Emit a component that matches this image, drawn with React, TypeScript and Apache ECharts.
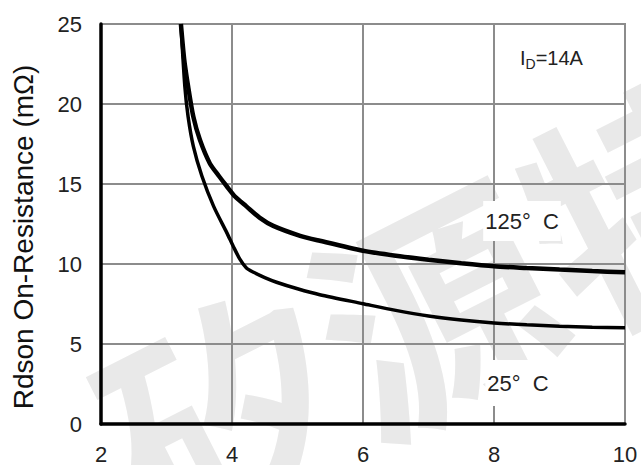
import React, { useEffect, useRef } from "react";
import * as echarts from "echarts";

// Gate voltage (V) and Rdson (mΩ)
const vgs125: number[] = [3.22, 3.27, 3.33, 3.41, 3.51, 3.66, 3.8, 3.92, 4.05, 4.22, 4.42, 4.63, 5.04, 5.34, 6.0, 6.5, 7.0, 7.5, 8.0, 8.5, 9.0, 9.5, 10.0];
const rds125: number[] = [25, 22.8, 21.1, 19.2, 17.76, 16.3, 15.5, 14.86, 14.2, 13.6, 12.9, 12.38, 11.76, 11.45, 10.83, 10.52, 10.27, 10.05, 9.86, 9.75, 9.65, 9.56, 9.48];

const vgs25: number[] = [3.22, 3.28, 3.33, 3.41, 3.54, 3.72, 3.92, 4.02, 4.12, 4.22, 4.33, 4.5, 4.68, 5.0, 5.34, 6.0, 6.5, 7.0, 7.5, 8.0, 8.5, 9.0, 9.5, 10.0];
const rds25: number[] = [25, 21.1, 19.2, 17.35, 15.5, 13.6, 11.96, 11.1, 10.3, 9.75, 9.48, 9.15, 8.86, 8.45, 8.08, 7.52, 7.1, 6.75, 6.5, 6.32, 6.2, 6.11, 6.05, 6.02];

const xTicks = { min: 2, max: 10, interval: 2 };
const yTicks = { min: 0, max: 25, interval: 5 };

const yAxisTitle = "Rdson On-Resistance (mΩ)";
const label125 = "125°  C";
const label25 = "25°  C";
const watermark = "矽源特";

const FONT = "Liberation Sans, Arial, Helvetica, sans-serif";

export default function App() {
  const ref = useRef<HTMLDivElement>(null);
  useEffect(() => {
    if (!ref.current) return;
    const chart = echarts.init(ref.current, undefined, { renderer: "svg" });
    const pair = (xs: number[], ys: number[]) => xs.map((x, i) => [x, ys[i]]);
    chart.setOption({
      animation: false,
      backgroundColor: "#ffffff",
      grid: {
        left: 101,
        right: 16,
        top: 24,
        bottom: 39,
        show: true,
        borderColor: "#8c8c8c",
        borderWidth: 2,
      },
      xAxis: {
        type: "value",
        min: xTicks.min,
        max: xTicks.max,
        interval: xTicks.interval,
        axisLine: { show: true, lineStyle: { color: "#000", width: 3.5 } },
        axisTick: { show: false },
        axisLabel: { color: "#222", fontSize: 22, fontFamily: FONT, margin: 19 },
        splitLine: { show: true, lineStyle: { color: "#8c8c8c", width: 2 } },
      },
      yAxis: {
        type: "value",
        min: yTicks.min,
        max: yTicks.max,
        interval: yTicks.interval,
        axisLine: { show: true, lineStyle: { color: "#000", width: 3.5 } },
        axisTick: { show: false },
        axisLabel: { color: "#222", fontSize: 22, fontFamily: FONT, margin: 19 },
        splitLine: { show: true, lineStyle: { color: "#8c8c8c", width: 2 } },
      },
      graphic: [
        {
          type: "text",
          x: 430,
          y: 300,
          rotation: 0.47,
          z: -10,
          silent: true,
          style: {
            text: watermark,
            font: "bold 235px 'Noto Sans CJK SC', sans-serif",
            fill: "#e9e9e9",
            align: "center",
            verticalAlign: "middle",
          },
        },
        {
          type: "text",
          x: 23,
          y: 237,
          rotation: Math.PI / 2,
          style: {
            text: yAxisTitle,
            font: `28px ${FONT}`,
            fill: "#111",
            align: "center",
            verticalAlign: "middle",
          },
        },
        {
          type: "text",
          x: 520,
          y: 58,
          z: 10,
          style: {
            text: "{a|I}{b|D}{a|=14A}",
            fill: "#222",
            rich: {
              a: { fontSize: 20, fontFamily: FONT, color: "#222", lineHeight: 22 },
              b: { fontSize: 14, fontFamily: FONT, color: "#222", padding: [11, 0, 0, 0], lineHeight: 22 },
            },
            verticalAlign: "middle",
          },
        },
        {
          type: "text",
          x: 522,
          y: 221,
          z: 10,
          style: {
            text: label125,
            font: `22px ${FONT}`,
            fill: "#222",
            align: "center",
            verticalAlign: "middle",
            backgroundColor: "#ffffff",
            padding: [9, 2],
          },
        },
        {
          type: "text",
          x: 518,
          y: 383,
          z: 10,
          style: {
            text: label25,
            font: `22px ${FONT}`,
            fill: "#222",
            align: "center",
            verticalAlign: "middle",
            backgroundColor: "#ffffff",
            padding: [12, 2],
          },
        },
      ],
      series: [
        {
          name: "125°C",
          type: "line",
          data: pair(vgs125, rds125),
          showSymbol: false,
          smooth: 0.25,
          lineStyle: { color: "#000", width: 4.5 },
          z: 5,
        },
        {
          name: "25°C",
          type: "line",
          data: pair(vgs25, rds25),
          showSymbol: false,
          smooth: 0.25,
          lineStyle: { color: "#000", width: 3.5 },
          z: 5,
        },
      ],
    });
    return () => chart.dispose();
  }, []);
  return (
    <div
      ref={ref}
      style={{ position: "fixed", left: 0, top: 0, width: 641, height: 465 }}
    />
  );
}
